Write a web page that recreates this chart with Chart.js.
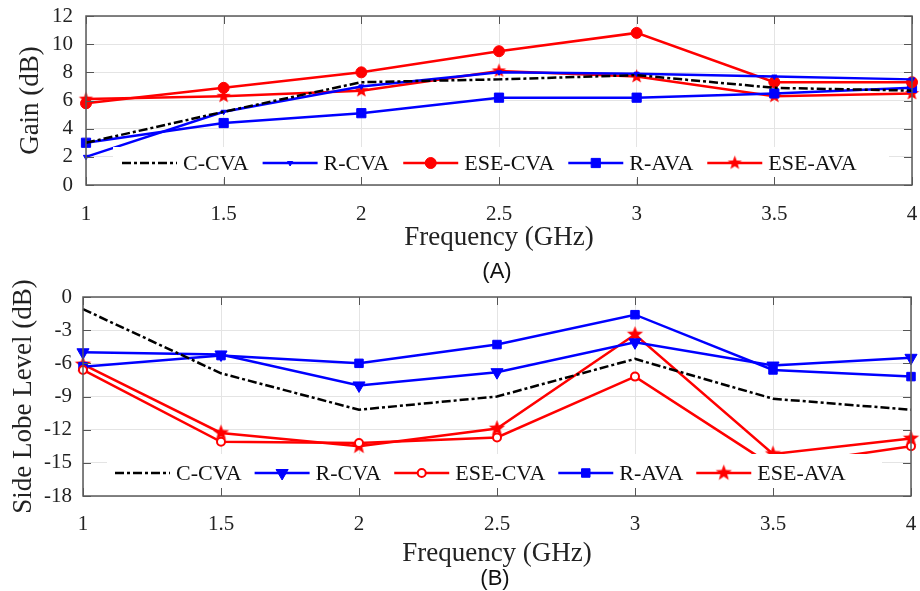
<!DOCTYPE html>
<html>
<head>
<meta charset="utf-8">
<script src="https://cdn.jsdelivr.net/npm/chart.js@4.4.1/dist/chart.umd.min.js"></script>
<style>
  body { margin: 0; background: #fff; }
  #wrap { position: relative; width: 920px; height: 591px; overflow: hidden; }
  canvas { position: absolute; left: 0; }
  .tag { position: absolute; font-family: "Liberation Sans", Arial, sans-serif; font-size: 22px; color: #111; transform: translate(-50%, -50%); }
</style>
</head>
<body>
<div id="wrap">
  <canvas id="gainChart" width="920" height="255" style="top:0"></canvas>
  <canvas id="sllChart" width="920" height="311" style="top:280px"></canvas>
  <div class="tag" style="left:497px; top:271px">(A)</div>
  <div class="tag" style="left:495px; top:578px">(B)</div>
</div>
<script>
const freqs = ['1', '1.5', '2', '2.5', '3', '3.5', '4'];

// gain (dB)
const gainCCVA   = [3.0, 5.2, 7.3, 7.5, 7.8, 6.9, 6.7];
const gainRCVA   = [2.0, 5.2, 7.0, 8.0, 7.9, 7.7, 7.5];
const gainESECVA = [5.8, 6.9, 8.0, 9.5, 10.8, 7.3, 7.3];
const gainRAVA   = [3.0, 4.4, 5.1, 6.2, 6.2, 6.5, 6.9];
const gainESEAVA = [6.1, 6.3, 6.7, 8.1, 7.7, 6.3, 6.5];

// side lobe level (dB)
const sllCCVA   = [-1.1, -6.9, -10.2, -9.0, -5.6, -9.2, -10.2];
const sllRCVA   = [-5.0, -5.2, -8.0, -6.8, -4.1, -6.2, -5.5];
const sllESECVA = [-6.6, -13.1, -13.2, -12.7, -7.2, -15.3, -13.5];
const sllRAVA   = [-6.3, -5.3, -6.0, -4.3, -1.6, -6.6, -7.2];
const sllESEAVA = [-6.1, -12.3, -13.5, -11.9, -3.4, -14.2, -12.8];

const RED = '#ff0000', BLUE = '#0000ff', BLACK = '#000000';
const SERIF = '"Liberation Serif", "Times New Roman", serif';

// five-pointed star marker, Chart.js has no such pointStyle
function makeStar(r, color) {
  const c = document.createElement('canvas');
  const s = Math.ceil(r * 2 + 2);
  c.width = c.height = s;
  const g = c.getContext('2d');
  g.fillStyle = color;
  g.beginPath();
  for (let i = 0; i < 10; i++) {
    const rad = i % 2 ? r * 0.42 : r;
    const a = -Math.PI / 2 + i * Math.PI / 5;
    g.lineTo(s / 2 + rad * Math.cos(a), s / 2 + rad * Math.sin(a));
  }
  g.closePath();
  g.fill();
  return c;
}

function series(label, data, color, extra) {
  return Object.assign({
    label, data,
    borderColor: color, backgroundColor: color,
    pointBackgroundColor: color, pointBorderColor: color,
    borderWidth: 2.5, pointBorderWidth: 1, tension: 0
  }, extra);
}

// white legend box inside the axes, plus matlab-like frame with inward ticks
const boxLegend = {
  id: 'boxLegend',
  afterDatasetsDraw(chart, args, opts) {
    const ctx = chart.ctx;
    ctx.save();
    ctx.fillStyle = '#fff';
    ctx.fillRect(opts.left, opts.top, opts.right - opts.left, opts.bottom - opts.top);
    const cy = (opts.top + opts.bottom) / 2;
    let x = opts.startX;
    ctx.font = '22px ' + SERIF;
    ctx.textBaseline = 'middle';
    chart.data.datasets.forEach(ds => {
      ctx.strokeStyle = ds.borderColor;
      ctx.lineWidth = ds.borderWidth;
      ctx.setLineDash(ds.borderDash || []);
      ctx.beginPath();
      ctx.moveTo(x, cy);
      ctx.lineTo(x + opts.sample, cy);
      ctx.stroke();
      ctx.setLineDash([]);
      if (ds.pointRadius > 0) {
        ctx.fillStyle = ds.pointBackgroundColor;
        ctx.strokeStyle = ds.pointBorderColor;
        ctx.lineWidth = ds.pointBorderWidth;
        Chart.helpers.drawPoint(ctx, {
          pointStyle: ds.pointStyle, rotation: ds.pointRotation || 0,
          radius: ds.pointRadius, borderWidth: ds.pointBorderWidth
        }, x + opts.sample / 2, cy);
      }
      x += opts.sample + 6;
      ctx.fillStyle = '#111';
      ctx.fillText(ds.label, x, cy + 1);
      x += ctx.measureText(ds.label).width + opts.gap;
    });
    ctx.restore();
  },
  afterDraw(chart) {
    const ctx = chart.ctx;
    const {left, right, top, bottom} = chart.chartArea;
    const xs = chart.scales.x, ys = chart.scales.y;
    const tl = 8;
    ctx.save();
    ctx.strokeStyle = '#555';
    ctx.lineWidth = 1;
    ctx.beginPath();
    xs.ticks.forEach((t, i) => {
      const px = Math.round(xs.getPixelForTick(i)) + 0.5;
      ctx.moveTo(px, bottom); ctx.lineTo(px, bottom - tl);
      ctx.moveTo(px, top); ctx.lineTo(px, top + tl);
    });
    ys.ticks.forEach((t, i) => {
      const py = Math.round(ys.getPixelForTick(i)) + 0.5;
      ctx.moveTo(left, py); ctx.lineTo(left + tl, py);
      ctx.moveTo(right, py); ctx.lineTo(right - tl, py);
    });
    ctx.stroke();
    ctx.lineWidth = 1.5;
    ctx.strokeStyle = '#5a5a5a';
    ctx.strokeRect(left, top, right - left, bottom - top);
    ctx.restore();
  }
};

function makeChart(id, datasets, cfg) {
  return new Chart(document.getElementById(id), {
    type: 'line',
    data: { labels: freqs, datasets },
    options: {
      responsive: false,
      animation: false,
      events: [],
      devicePixelRatio: 1,
      layout: { padding: { top: cfg.padTop, right: 8, left: 0, bottom: 0 } },
      plugins: {
        legend: { display: false },
        tooltip: { enabled: false },
        boxLegend: cfg.legend
      },
      scales: {
        x: {
          type: 'category',
          offset: false,
          afterFit: s => { s.height = cfg.xHeight; s.paddingLeft = 0; s.paddingRight = 0; },
          grid: { color: '#e4e4e4', drawTicks: false, offset: false },
          border: { display: false },
          ticks: { color: '#222', font: { family: SERIF, size: 21 }, padding: cfg.xTickPad, maxRotation: 0, autoSkip: false },
          title: { display: true, text: 'Frequency (GHz)', color: '#222', font: { family: SERIF, size: 27 }, padding: { bottom: cfg.xTitlePad, top: 0 } }
        },
        y: {
          min: cfg.yMin, max: cfg.yMax,
          afterFit: s => { s.width = cfg.yWidth; s.paddingTop = 0; s.paddingBottom = 0; },
          grid: { color: '#e4e4e4', drawTicks: false },
          border: { display: false },
          ticks: { stepSize: cfg.yStep, autoSkip: false, color: '#222', font: { family: SERIF, size: 21 }, padding: cfg.yTickPad },
          title: { display: true, text: cfg.yTitle, color: '#222', font: { family: SERIF, size: 27 }, padding: { top: cfg.yTitlePad, bottom: 0 } }
        }
      }
    },
    plugins: [boxLegend]
  });
}

makeChart('gainChart', [
  series('C-CVA', gainCCVA, BLACK, { borderDash: [9, 3, 3, 3], pointRadius: 0 }),
  series('R-CVA', gainRCVA, BLUE, { pointStyle: 'triangle', pointRotation: 180, pointRadius: 3 }),
  series('ESE-CVA', gainESECVA, RED, { pointStyle: 'circle', pointRadius: 5.5 }),
  series('R-AVA', gainRAVA, BLUE, { pointStyle: 'rect', pointRadius: 6.5 }),
  series('ESE-AVA', gainESEAVA, RED, { pointStyle: makeStar(7.5, RED), pointRadius: 7 })
], {
  padTop: 16, xHeight: 70, yWidth: 86, yMin: 0, yMax: 12, yStep: 2,
  xTickPad: 17, xTitlePad: 1, yTickPad: 13, yTitlePad: 15, yTitle: 'Gain (dB)',
  legend: { left: 113, top: 147, right: 889, bottom: 179, startX: 122, sample: 55, gap: 14 }
});

makeChart('sllChart', [
  series('C-CVA', sllCCVA, BLACK, { borderDash: [9, 3, 3, 3], pointRadius: 0 }),
  series('R-CVA', sllRCVA, BLUE, { pointStyle: 'triangle', pointRotation: 180, pointRadius: 7 }),
  series('ESE-CVA', sllESECVA, RED, { pointStyle: 'circle', pointRadius: 4, pointBackgroundColor: '#fff', pointBorderWidth: 2 }),
  series('R-AVA', sllRAVA, BLUE, { pointStyle: 'rect', pointRadius: 6 }),
  series('ESE-AVA', sllESEAVA, RED, { pointStyle: makeStar(8.5, RED), pointRadius: 8 })
], {
  padTop: 17, xHeight: 95, yWidth: 83, yMin: -18, yMax: 0, yStep: 3,
  xTickPad: 16, xTitlePad: 21, yTickPad: 11, yTitlePad: 8, yTitle: 'Side Lobe Level (dB)',
  legend: { left: 107, top: 174, right: 882, bottom: 212, startX: 115, sample: 55, gap: 13 }
});
</script>
</body>
</html>
